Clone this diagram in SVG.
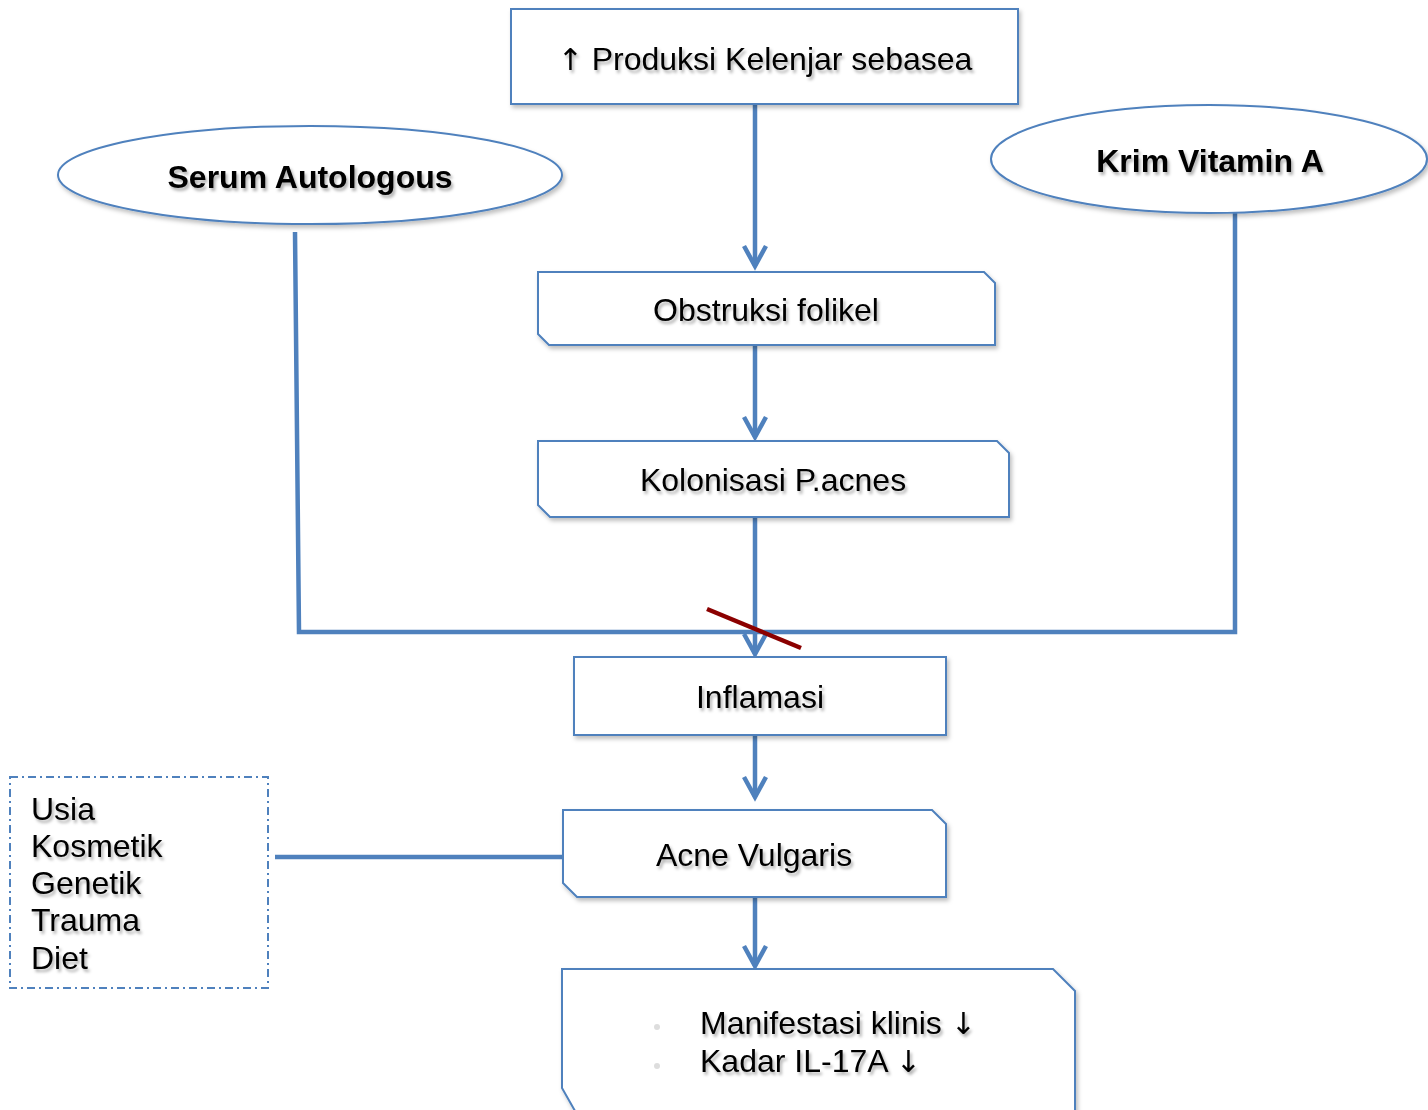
<svg xmlns="http://www.w3.org/2000/svg" width="1428" height="1110" viewBox="0 0 1428 1110">
<style>
.box{fill:#fff;stroke:#4F81BD;stroke-width:2;filter:url(#sh)}
.conn{fill:none;stroke:#4F81BD;stroke-width:4.5}
.t{font-family:"Liberation Sans",Arial,sans-serif;font-size:32px;fill:#000;filter:url(#tsh)}
.c{text-anchor:middle}
.b{font-weight:bold}
.ar{font-family:"DejaVu Sans",sans-serif;font-size:30px}
</style>
<defs>
<filter id="sh" x="-10%" y="-10%" width="120%" height="130%">
<feDropShadow dx="2" dy="3" stdDeviation="2" flood-color="#000" flood-opacity="0.25"/>
</filter>
<filter id="tsh" x="-10%" y="-30%" width="120%" height="160%">
<feDropShadow dx="2" dy="3" stdDeviation="1.5" flood-color="#000" flood-opacity="0.3"/>
</filter>
<marker id="arr" markerUnits="userSpaceOnUse" markerWidth="30" markerHeight="30" refX="22" refY="12" orient="auto" viewBox="0 0 30 24">
<path d="M2,1 L22,12 L2,23" fill="none" stroke="#4F81BD" stroke-width="4.5"/>
</marker>
</defs>

<g id="connectors">
<line class="conn" x1="755" y1="104" x2="755" y2="266" marker-end="url(#arr)"/>
<line class="conn" x1="755" y1="340" x2="755" y2="437" marker-end="url(#arr)"/>
<line class="conn" x1="755" y1="514" x2="755" y2="654" marker-end="url(#arr)"/>
<polyline class="conn" points="295,232 299,632 1235,632 1235,202"/>
<line x1="707" y1="609" x2="801" y2="648" stroke="#8B0000" stroke-width="4.5"/>
<line class="conn" x1="755" y1="730" x2="755" y2="797" marker-end="url(#arr)"/>
<line class="conn" x1="755" y1="897" x2="755" y2="966" marker-end="url(#arr)"/>
<line class="conn" x1="275" y1="857" x2="563" y2="857"/>
</g>

<g id="produksi">
<rect class="box" x="511" y="9" width="507" height="95"/>
<text class="t c" x="765" y="70"><tspan class="ar">↑</tspan> Produksi Kelenjar sebasea</text>
</g>

<g id="serum">
<ellipse class="box" cx="310" cy="175" rx="252" ry="49"/>
<text class="t c b" x="310" y="188">Serum Autologous</text>
</g>

<g id="krim">
<ellipse class="box" cx="1209" cy="159" rx="218" ry="54"/>
<text class="t c b" x="1210" y="172">Krim Vitamin A</text>
</g>

<g id="obstruksi">
<path class="box" d="M538,272 H984 L995,283 V345 H549 L538,334 Z"/>
<text class="t c" x="766" y="321">Obstruksi folikel</text>
</g>

<g id="kolonisasi">
<path class="box" d="M538,441 H997 L1009,453 V517 H550 L538,505 Z"/>
<text class="t c" x="773" y="491">Kolonisasi P.acnes</text>
</g>

<g id="inflamasi">
<rect class="box" x="574" y="657" width="372" height="78"/>
<text class="t c" x="760" y="708">Inflamasi</text>
</g>

<g id="acne">
<path class="box" d="M563,810 H932 L946,824 V897 H577 L563,883 Z"/>
<text class="t c" x="754" y="866">Acne Vulgaris</text>
</g>

<g id="manifestasi">
<path class="box" d="M562,969 H1053 L1075,991 V1125 H583 L562,1088 Z"/>
<circle cx="657" cy="1027" r="3" fill="#ddd"/>
<circle cx="657" cy="1066" r="3" fill="#ddd"/>
<text class="t" x="700" y="1034">Manifestasi klinis <tspan class="ar">↓</tspan></text>
<text class="t" x="700" y="1072">Kadar IL-17A <tspan class="ar">↓</tspan></text>
</g>

<g id="faktor">
<rect x="10" y="777" width="258" height="211" fill="#fff" stroke="#4F81BD" stroke-width="2" stroke-dasharray="8,4,2,4"/>
<text class="t" x="31" y="820">Usia</text>
<text class="t" x="31" y="857">Kosmetik</text>
<text class="t" x="31" y="894">Genetik</text>
<text class="t" x="31" y="931">Trauma</text>
<text class="t" x="31" y="969">Diet</text>
</g>
</svg>
